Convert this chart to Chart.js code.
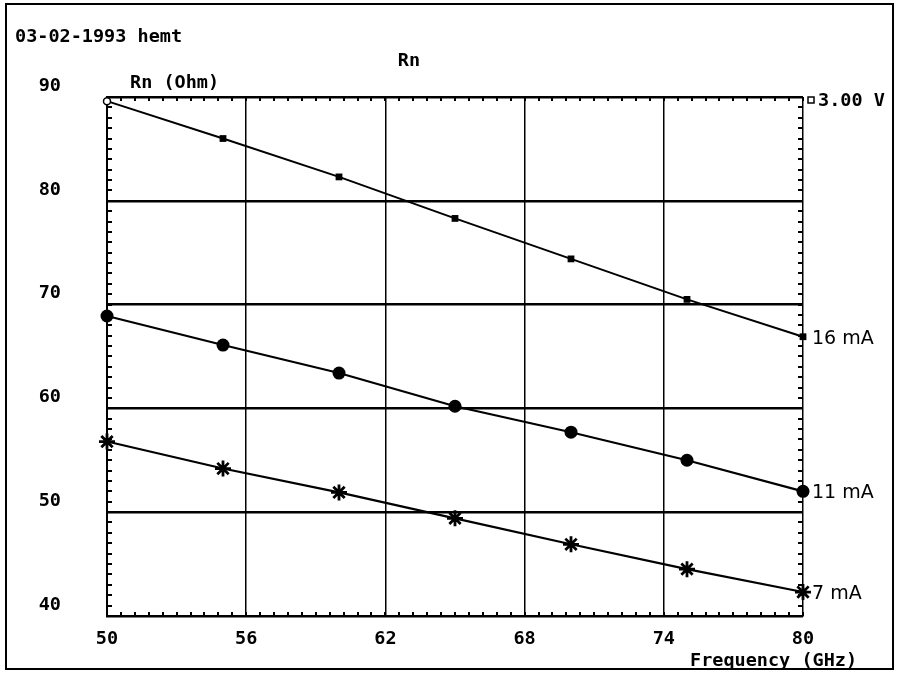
<!DOCTYPE html>
<html>
<head>
<meta charset="utf-8">
<script src="https://cdn.jsdelivr.net/npm/chart.js@4/dist/chart.umd.min.js"></script>
<style>
  html, body { margin: 0; padding: 0; background: #fff; }
  canvas { display: block; }
</style>
</head>
<body>
<canvas id="rnChart" width="897" height="673"></canvas>
<script>
// Frequency points (GHz)
const frequencies = [50, 55, 60, 65, 70, 75, 80];
// Noise resistance Rn (Ohm) at Vds = 3.00 V for three drain currents
const rn16mA = [89.6, 86.0, 82.3, 78.3, 74.4, 70.5, 66.9];
const rn11mA = [68.9, 66.1, 63.4, 60.2, 57.7, 55.0, 52.0];
const rn7mA  = [56.8, 54.2, 51.9, 49.4, 46.9, 44.5, 42.3];
// Axis ticks
const xTicks = [50, 56, 62, 68, 74, 80];
const yTicks = [40, 50, 60, 70, 80, 90];
// Texts
const headerText = '03-02-1993 hemt';
const titleText = 'Rn';
const yAxisTitle = 'Rn (Ohm)';
const xAxisTitle = 'Frequency (GHz)';
const biasLabel = '3.00 V';
const seriesLabels = ['16 mA', '11 mA', '7 mA'];

const MONO_FAMILY = '"DejaVu Sans Mono", "Liberation Mono", monospace';
const MONO = 'bold 18.5px ' + MONO_FAMILY;
const HAND = '19px "DejaVu Sans", "Liberation Sans", sans-serif';

const toPoints = vals => frequencies.map((f, i) => ({ x: f, y: vals[i] }));

const decorations = {
  id: 'decorations',
  beforeDraw(chart) {
    const ctx = chart.ctx;
    ctx.save();
    ctx.fillStyle = '#fff';
    ctx.fillRect(0, 0, chart.width, chart.height);
    // outer frame
    ctx.strokeStyle = '#000';
    ctx.lineWidth = 2;
    ctx.strokeRect(6, 4, 887, 665);
    ctx.restore();
  },
  beforeDatasetsDraw(chart) {
    const ctx = chart.ctx;
    const xs = chart.scales.x, ys = chart.scales.y;
    const a = chart.chartArea;
    ctx.save();
    ctx.strokeStyle = '#000';
    ctx.lineWidth = 2;
    ctx.beginPath();
    // minor ticks on left and right axes, every 1 Ohm, pointing inward
    for (let v = ys.min; v <= ys.max; v += 1) {
      const y = Math.round(ys.getPixelForValue(v));
      ctx.moveTo(a.left, y); ctx.lineTo(a.left + 5, y);
      ctx.moveTo(a.right, y); ctx.lineTo(a.right - 5, y);
    }
    // minor ticks on top and bottom axes, every 0.6 GHz
    for (let i = 0; i <= 50; i++) {
      const x = Math.round(xs.getPixelForValue(xs.min + i * 0.6));
      ctx.moveTo(x, a.top); ctx.lineTo(x, a.top + 4);
      ctx.moveTo(x, a.bottom); ctx.lineTo(x, a.bottom - 4);
    }
    ctx.stroke();
    ctx.restore();
  },
  afterDatasetsDraw(chart) {
    const ctx = chart.ctx;
    const xs = chart.scales.x, ys = chart.scales.y;
    ctx.save();
    ctx.fillStyle = '#000';
    ctx.textBaseline = 'middle';
    ctx.font = MONO;
    ctx.textAlign = 'left';
    ctx.fillText(headerText, 15, 37);
    ctx.fillText(yAxisTitle, 130, 83);
    ctx.textAlign = 'center';
    ctx.fillText(titleText, 409, 61);
    ctx.textAlign = 'left';
    ctx.fillText(xAxisTitle, 690, 661);
    // bias label with open square marker
    ctx.fillText(biasLabel, 818, 101);
    ctx.strokeStyle = '#000';
    ctx.lineWidth = 1.5;
    ctx.strokeRect(808, 97, 6, 6);
    // current labels at the end of each curve
    ctx.font = HAND;
    chart.data.datasets.forEach((ds, i) => {
      const last = ds.data[ds.data.length - 1];
      const x = xs.getPixelForValue(last.x) + 9;
      const y = ys.getPixelForValue(last.y) + 2;
      ctx.fillText(seriesLabels[i], x, y);
    });
    ctx.restore();
  }
};

const openFirst = (first, rest) => frequencies.map((_, i) => (i === 0 ? first : rest));

new Chart(document.getElementById('rnChart'), {
  type: 'line',
  data: {
    datasets: [
      {
        label: seriesLabels[0],
        data: toPoints(rn16mA),
        borderColor: '#000',
        borderWidth: 2,
        pointStyle: openFirst('circle', 'rect'),
        pointRadius: openFirst(3.5, 4.8),
        pointBackgroundColor: openFirst('#fff', '#000'),
        pointBorderColor: '#000',
        pointBorderWidth: openFirst(1.5, 0),
        tension: 0,
        clip: false
      },
      {
        label: seriesLabels[1],
        data: toPoints(rn11mA),
        borderColor: '#000',
        borderWidth: 2.2,
        pointStyle: 'circle',
        pointRadius: 6.5,
        pointBackgroundColor: '#000',
        pointBorderColor: '#000',
        pointBorderWidth: 0,
        tension: 0,
        clip: false
      },
      {
        label: seriesLabels[2],
        data: toPoints(rn7mA),
        borderColor: '#000',
        borderWidth: 2.2,
        pointStyle: 'star',
        pointRadius: 8,
        pointBackgroundColor: '#000',
        pointBorderColor: '#000',
        pointBorderWidth: 2.8,
        tension: 0,
        clip: false
      }
    ]
  },
  options: {
    responsive: false,
    animation: false,
    events: [],
    layout: { padding: { top: 97, right: 94, left: 0, bottom: 0 } },
    plugins: {
      legend: { display: false },
      title: { display: false },
      tooltip: { enabled: false }
    },
    scales: {
      x: {
        type: 'linear',
        min: 50,
        max: 80,
        afterBuildTicks: s => { s.ticks = xTicks.map(v => ({ value: v })); },
        afterFit: s => { s.height = 56; },
        grid: { color: '#000', lineWidth: 1.5, drawTicks: false },
        border: { display: true, color: '#000', width: 2 },
        ticks: {
          color: '#000',
          font: { family: MONO_FAMILY, size: 18.5, weight: 'bold' },
          padding: 12,
          maxRotation: 0,
          autoSkip: false
        }
      },
      y: {
        type: 'linear',
        min: 40,
        max: 90,
        afterBuildTicks: s => { s.ticks = yTicks.map(v => ({ value: v })); },
        afterFit: s => { s.width = 107; },
        grid: { color: '#000', lineWidth: 2.5, drawTicks: false },
        border: { display: true, color: '#000', width: 2 },
        ticks: {
          color: '#000',
          font: { family: MONO_FAMILY, size: 18.5, weight: 'bold' },
          padding: 46,
          labelOffset: -11,
          autoSkip: false
        }
      }
    }
  },
  plugins: [decorations]
});
</script>
</body>
</html>
